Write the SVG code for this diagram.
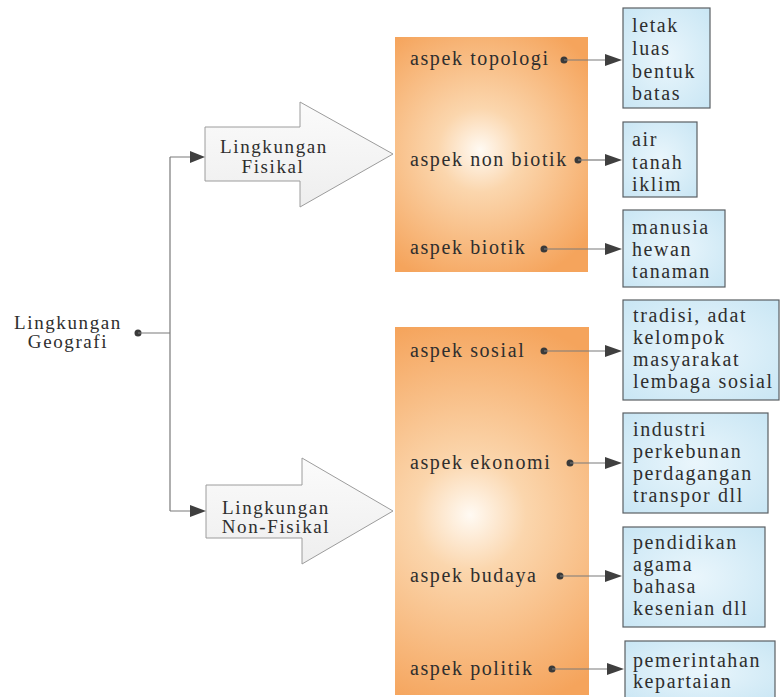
<svg xmlns="http://www.w3.org/2000/svg" width="781" height="697" viewBox="0 0 781 697" font-family="'Liberation Serif', 'Times New Roman', Times, 'DejaVu Serif', serif">
  <style>
    text { font-size: 20px; fill: #2e2e2e; letter-spacing: 1.6px; }
    .mid { text-anchor: middle; }
    .two { font-size: 19px; }
    .line { stroke: #7a7a7a; stroke-width: 1.2; fill: none; }
    .dot { fill: #3a3a3a; }
    .head { fill: #3f3f3f; }
    .big { fill: url(#arrowFill); stroke: #9c9c9c; stroke-width: 1; }
    .leaf { fill: url(#blueFill); stroke: #5a5f63; stroke-width: 1.2; }
  </style>
  <defs>
    <radialGradient id="orangeTop" gradientUnits="userSpaceOnUse" cx="480" cy="150" r="140">
      <stop offset="0" stop-color="#fffaf3"/>
      <stop offset="0.3" stop-color="#fbd6ad"/>
      <stop offset="1" stop-color="#f5a45c"/>
    </radialGradient>
    <radialGradient id="orangeBottom" gradientUnits="userSpaceOnUse" cx="470" cy="515" r="200">
      <stop offset="0" stop-color="#fffaf3"/>
      <stop offset="0.28" stop-color="#fbd6ad"/>
      <stop offset="1" stop-color="#f5a45c"/>
    </radialGradient>
    <radialGradient id="blueFill" cx="0.5" cy="0.5" r="0.7">
      <stop offset="0" stop-color="#eaf6fc"/>
      <stop offset="1" stop-color="#c9e6f4"/>
    </radialGradient>
    <linearGradient id="arrowFill" x1="0" y1="0" x2="0" y2="1">
      <stop offset="0" stop-color="#fbfbfb"/>
      <stop offset="1" stop-color="#eeeeee"/>
    </linearGradient>
  </defs>

  <!-- root node -->
  <g id="node-geografi">
    <text class="mid two" x="68" y="329">Lingkungan</text>
    <text class="mid two" x="68" y="348">Geografi</text>
  </g>

  <!-- block arrows -->
  <g id="node-fisikal">
    <path class="big" d="M205,127 H300 V102 L393,154 L300,207 V181 H205 Z"/>
    <text class="mid two" x="274" y="153">Lingkungan</text>
    <text class="mid two" x="273" y="173">Fisikal</text>
  </g>
  <g id="node-nonfisikal">
    <path class="big" d="M206,485 H302 V458 L393,511 L302,564 V538 H206 Z"/>
    <text class="mid two" x="276" y="514">Lingkungan</text>
    <text class="mid two" x="276" y="533">Non-Fisikal</text>
  </g>

  <!-- aspect panels -->
  <g id="node-fisik-aspek">
    <rect x="395" y="37" width="193" height="235" fill="url(#orangeTop)"/>
    <text x="410" y="65">aspek topologi</text>
    <text x="410" y="166">aspek non biotik</text>
    <text x="410" y="254">aspek biotik</text>
  </g>
  <g id="node-nonfisik-aspek">
    <rect x="395" y="327" width="194" height="368" fill="url(#orangeBottom)"/>
    <text x="410" y="357">aspek sosial</text>
    <text x="410" y="469">aspek ekonomi</text>
    <text x="410" y="582">aspek budaya</text>
    <text x="410" y="675">aspek politik</text>
  </g>

  <!-- detail boxes -->
  <g id="node-topologi">
    <rect class="leaf" x="623" y="8" width="87" height="100"/>
    <text x="632" y="32">letak</text>
    <text x="632" y="55">luas</text>
    <text x="632" y="78">bentuk</text>
    <text x="632" y="100">batas</text>
  </g>
  <g id="node-nonbiotik">
    <rect class="leaf" x="623" y="122" width="74" height="75"/>
    <text x="632" y="146">air</text>
    <text x="632" y="169">tanah</text>
    <text x="632" y="191">iklim</text>
  </g>
  <g id="node-biotik">
    <rect class="leaf" x="623" y="210" width="102" height="77"/>
    <text x="632" y="234">manusia</text>
    <text x="632" y="256">hewan</text>
    <text x="632" y="278">tanaman</text>
  </g>
  <g id="node-sosial">
    <rect class="leaf" x="623" y="300" width="156" height="100"/>
    <text x="633" y="322">tradisi, adat</text>
    <text x="633" y="344">kelompok</text>
    <text x="633" y="366">masyarakat</text>
    <text x="633" y="388">lembaga sosial</text>
  </g>
  <g id="node-ekonomi">
    <rect class="leaf" x="623" y="413" width="145" height="100"/>
    <text x="633" y="436">industri</text>
    <text x="633" y="458">perkebunan</text>
    <text x="633" y="480">perdagangan</text>
    <text x="633" y="502">transpor dll</text>
  </g>
  <g id="node-budaya">
    <rect class="leaf" x="623" y="527" width="142" height="100"/>
    <text x="633" y="549">pendidikan</text>
    <text x="633" y="571">agama</text>
    <text x="633" y="593">bahasa</text>
    <text x="633" y="615">kesenian dll</text>
  </g>
  <g id="node-politik">
    <rect class="leaf" x="625" y="641" width="150" height="62"/>
    <text x="633" y="667">pemerintahan</text>
    <text x="633" y="688">kepartaian</text>
  </g>

  <!-- connectors -->
  <g id="connectors">
    <circle class="dot" cx="138" cy="333" r="3.5"/>
    <path class="line" d="M138,333 H170 M170,157 V511 M170,157 H192 M170,511 H192"/>
    <path class="head" d="M190,151 L205,157 L190,163 Z"/>
    <path class="head" d="M190,505 L206,511 L190,517 Z"/>

    <circle class="dot" cx="564" cy="60" r="3.5"/>
    <path class="line" d="M564,60 H607"/>
    <path class="head" d="M605,54 L622,60 L605,66 Z"/>

    <circle class="dot" cx="578" cy="160" r="3.5"/>
    <path class="line" d="M578,160 H607"/>
    <path class="head" d="M605,154 L622,160 L605,166 Z"/>

    <circle class="dot" cx="544" cy="249" r="3.5"/>
    <path class="line" d="M544,249 H607"/>
    <path class="head" d="M605,243 L622,249 L605,255 Z"/>

    <circle class="dot" cx="544" cy="351" r="3.5"/>
    <path class="line" d="M544,351 H607"/>
    <path class="head" d="M605,345 L622,351 L605,357 Z"/>

    <circle class="dot" cx="570" cy="463" r="3.5"/>
    <path class="line" d="M570,463 H607"/>
    <path class="head" d="M605,457 L622,463 L605,469 Z"/>

    <circle class="dot" cx="560" cy="576" r="3.5"/>
    <path class="line" d="M560,576 H607"/>
    <path class="head" d="M605,570 L622,576 L605,582 Z"/>

    <circle class="dot" cx="552" cy="669" r="3.5"/>
    <path class="line" d="M552,669 H609"/>
    <path class="head" d="M607,663 L624,669 L607,675 Z"/>
  </g>
</svg>
